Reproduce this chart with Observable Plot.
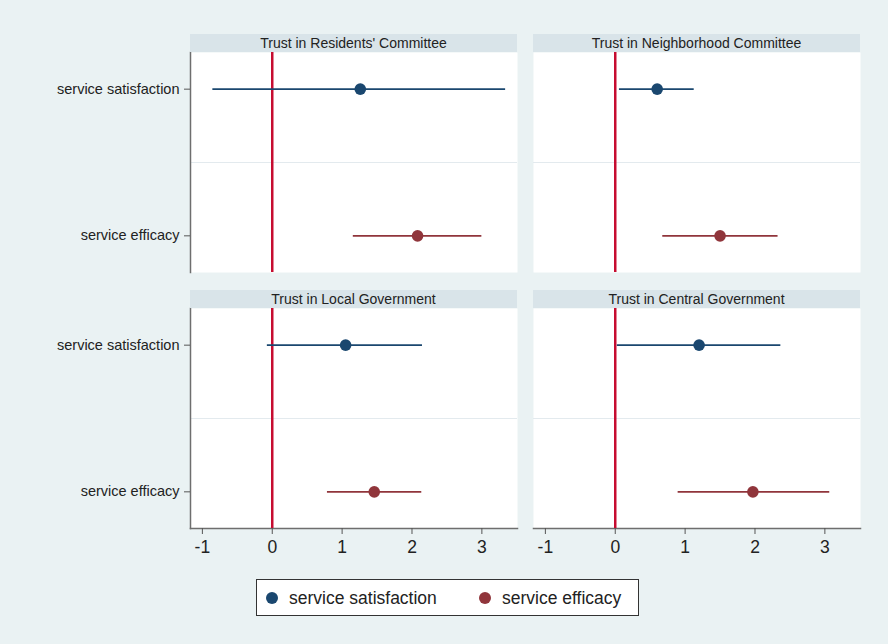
<!DOCTYPE html>
<html>
<head>
<meta charset="utf-8">
<script src="https://cdn.jsdelivr.net/npm/d3@7"></script>
<script src="https://cdn.jsdelivr.net/npm/@observablehq/plot@0.6"></script>
<style>
  html, body { margin: 0; padding: 0; background: #eaf2f3; }
  #wrap { position: relative; width: 888px; height: 644px; background: #eaf2f3; font-family: "Liberation Sans", Arial, Helvetica, sans-serif; color: #222; overflow: hidden; }
  .strip { position: absolute; height: 18px; line-height: 18px; background: #d9e4e9; text-align: center; font-size: 14px; color: #222; }
  .pl { position: absolute; }
  .pl svg { overflow: visible; }
  #legend { position: absolute; left: 256px; top: 579px; width: 381px; height: 35px; background: #fff; border: 1px solid #333; }
  .ldot { position: absolute; width: 12px; height: 12px; border-radius: 50%; top: 12px; }
  .ltxt { position: absolute; top: 7px; font-size: 17.5px; line-height: 22px; color: #222; }
</style>
</head>
<body>
<div id="wrap"></div>
<script>
// ---- data ----
const panels = ["Trust in Residents' Committee", "Trust in Neighborhood Committee", "Trust in Local Government", "Trust in Central Government"];
const outcomes = ["service satisfaction", "service efficacy"];
const satEst = [1.26, 0.60, 1.05, 1.20];
const satLo  = [-0.85, 0.06, -0.07, 0.03];
const satHi  = [3.34, 1.13, 2.15, 2.37];
const effEst = [2.08, 1.50, 1.46, 1.97];
const effLo  = [1.16, 0.68, 0.79, 0.90];
const effHi  = [3.00, 2.33, 2.14, 3.07];
const seriesColors = ["#1a476f", "#90353b"];
const xTicks = [-1, 0, 1, 2, 3];
const refValue = 0;

const wrap = document.getElementById("wrap");
const xDomain = [-1.17, 3.51];

function panel(i, left, bottom, pos) {
  const est = [satEst[i], effEst[i]], lo = [satLo[i], effLo[i]], hi = [satHi[i], effHi[i]];
  const marks = [
    Plot.frame({fill: "white", stroke: "none"}),
    Plot.ruleY([1.5], {stroke: "#e3eaee", strokeWidth: 1})
  ];
  if (left) marks.push(Plot.frame({anchor: "left", stroke: "#6e6e6e", strokeWidth: 1.5}));
  if (bottom) marks.push(Plot.frame({anchor: "bottom", stroke: "#6e6e6e", strokeWidth: 1.5}));
  marks.push(Plot.ruleX([refValue], {stroke: "#c60c30", strokeWidth: 2.5}));
  outcomes.forEach((o, j) => {
    const d = [{y: j + 1, est: est[j], lo: lo[j], hi: hi[j]}];
    marks.push(Plot.ruleY(d, {y: "y", x1: "lo", x2: "hi", stroke: seriesColors[j], strokeWidth: 1.6}));
    marks.push(Plot.dot(d, {x: "est", y: "y", r: 5.8, fill: seriesColors[j], stroke: "none"}));
  });
  if (left) marks.push(Plot.axisY([1, 2], {tickFormat: d => outcomes[d - 1], label: null, tickSize: 6, tickPadding: 5, fontSize: 14.5, stroke: "#555", fill: "#222"}));
  if (bottom) marks.push(Plot.axisX(xTicks, {tickFormat: d => String(d), label: null, tickSize: 6, tickPadding: 6, fontSize: 17.5, stroke: "#555", fill: "#222"}));
  const mL = left ? 190 : 0;
  const mB = bottom ? 40 : 0;
  const svg = Plot.plot({
    width: 327 + mL,
    height: 220 + mB,
    marginLeft: mL, marginRight: 0, marginTop: 0, marginBottom: mB,
    x: {domain: xDomain, axis: null, label: null},
    y: {domain: [0.75, 2.25], reverse: true, axis: null, label: null},
    style: {background: "transparent", fontFamily: "'Liberation Sans', Arial, sans-serif", color: "#222", overflow: "visible"},
    marks
  });
  const div = document.createElement("div");
  div.className = "pl";
  div.style.left = (pos.x - mL) + "px";
  div.style.top = pos.y + "px";
  div.appendChild(svg);
  wrap.appendChild(div);

  const s = document.createElement("div");
  s.className = "strip";
  s.style.left = pos.x + "px";
  s.style.top = (pos.y - 18) + "px";
  s.style.width = "327px";
  s.textContent = panels[i];
  wrap.appendChild(s);
}

panel(0, true, false, {x: 190, y: 52});
panel(1, false, false, {x: 533, y: 52});
panel(2, true, true, {x: 190, y: 308});
panel(3, false, true, {x: 533, y: 308});

// legend
const lg = document.createElement("div");
lg.id = "legend";
const lx = [[9, 32], [222, 245]];
outcomes.forEach((o, j) => {
  const dot = document.createElement("div");
  dot.className = "ldot";
  dot.style.left = lx[j][0] + "px";
  dot.style.background = seriesColors[j];
  lg.appendChild(dot);
  const t = document.createElement("div");
  t.className = "ltxt";
  t.style.left = lx[j][1] + "px";
  t.textContent = o;
  lg.appendChild(t);
});
wrap.appendChild(lg);
</script>
</body>
</html>
